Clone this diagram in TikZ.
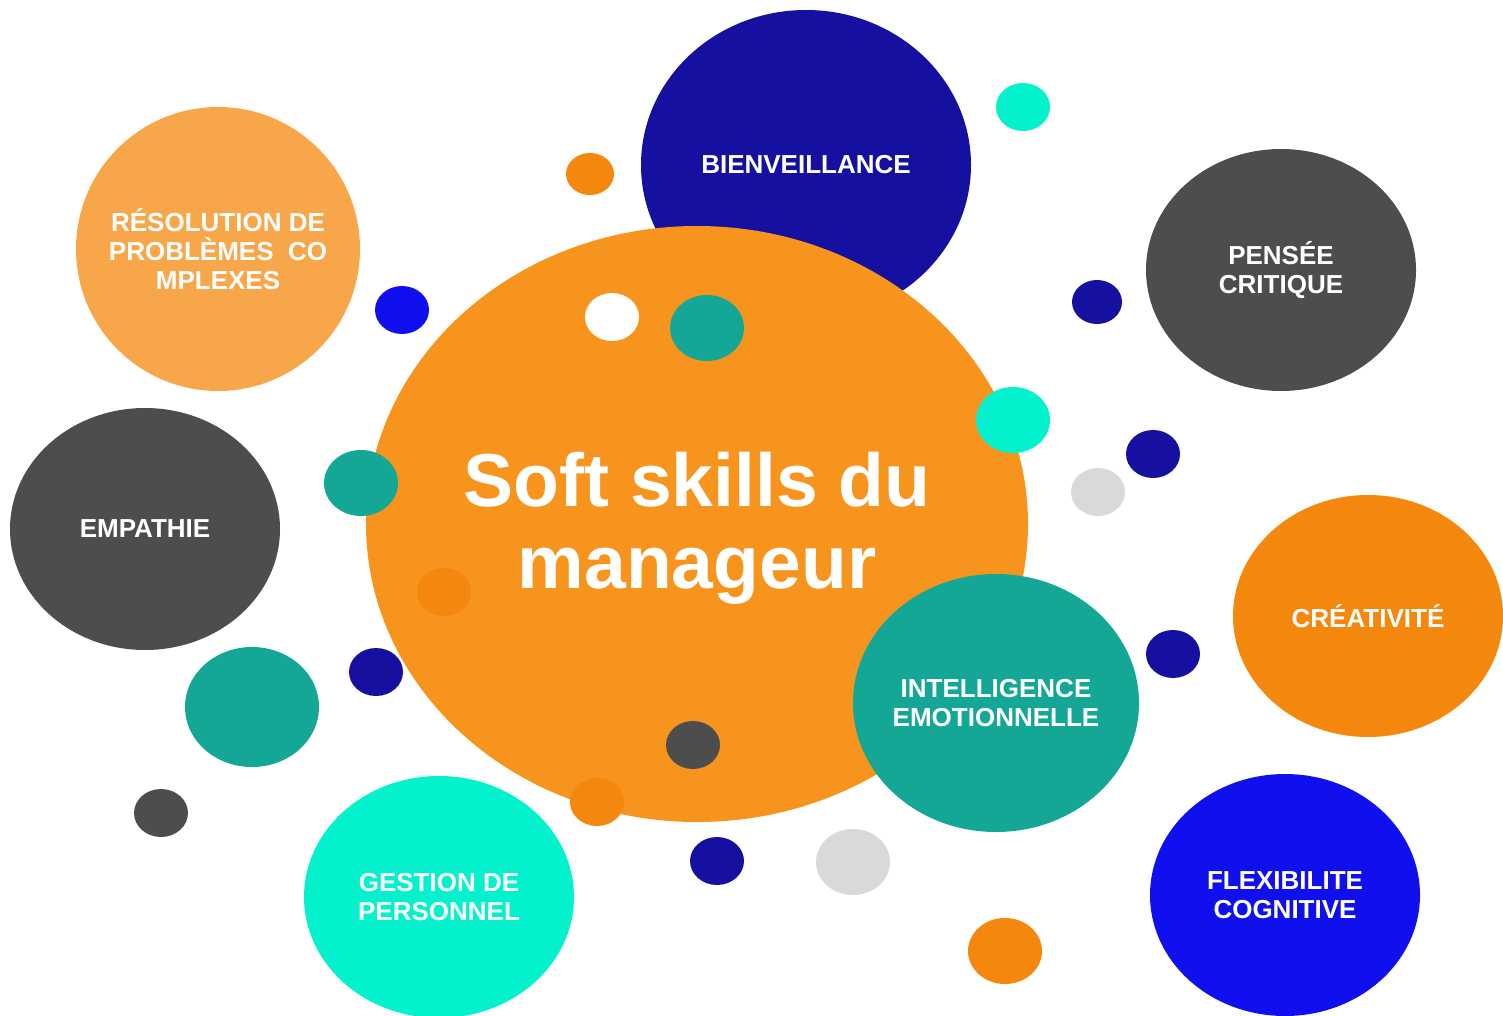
\documentclass[tikz,border=0pt]{standalone}
\usepackage{fontspec}
\setmainfont{Liberation Sans}
\usepackage{tikz}
\usetikzlibrary{shapes.geometric}

\definecolor{mainorange}{HTML}{F7941E}
\definecolor{paleorange}{HTML}{F7A64A}
\definecolor{deeporange}{HTML}{F4870D}
\definecolor{navy}{HTML}{1510A0}
\definecolor{brightblue}{HTML}{1010EE}
\definecolor{darkgray}{HTML}{4D4D4D}
\definecolor{teal}{HTML}{14A795}
\definecolor{aqua}{HTML}{03F2CD}
\definecolor{lightgray}{HTML}{D9D9D9}

\begin{document}
\begin{tikzpicture}[x=1pt,y=-1pt,
	blob/.style={ellipse,inner sep=0pt,outer sep=0pt},
	skill/.style={blob,minimum width=270pt,minimum height=242pt},
	dot/.style={blob,minimum width=54pt,minimum height=48pt},
	bigdot/.style={blob,minimum width=74pt,minimum height=66pt},
	lbl/.style={text=white,align=center,font=\bfseries\fontsize{26}{29}\selectfont}]
		\useasboundingbox (0,0) rectangle (1503,1016);

		% behind the centre
		\node [blob,fill=navy,minimum width=330pt,minimum height=310pt] (bienv) at (806,165) {};
		\node [blob,fill=mainorange,minimum width=662pt,minimum height=596pt] (centre) at (697,524) {};

		% skills
		\node [blob,fill=paleorange,minimum width=284pt,minimum height=284pt] (resol) at (218,249) {};
		\node [skill,fill=darkgray] (pensee) at (1281,270) {};
		\node [skill,fill=darkgray] (empathie) at (145,529) {};
		\node [skill,fill=deeporange] (creat) at (1368,616) {};
		\node [skill,fill=brightblue] (flex) at (1285,895) {};
		\node [skill,fill=aqua] (gestion) at (439,897) {};

		% small bubbles
		\node [dot,fill=deeporange,minimum width=48pt,minimum height=42pt] (d1) at (590,174) {};
		\node [dot,fill=aqua] (d2) at (1023,107) {};
		\node [dot,fill=brightblue] (d3) at (402,310) {};
		\node [dot,fill=navy,minimum width=50pt,minimum height=44pt] (d4) at (1097,302) {};
		\node [dot,fill=white] (d5) at (612,317) {};
		\node [bigdot,fill=teal] (d6) at (707,328) {};
		\node [bigdot,fill=aqua] (d7) at (1013,420) {};
		\node [dot,fill=navy] (d8) at (1153,454) {};
		\node [dot,fill=lightgray] (d9) at (1098,492) {};
		\node [bigdot,fill=teal] (d10) at (361,483) {};
		\node [dot,fill=deeporange] (d11) at (444,592) {};
		\node [dot,fill=navy] (d12) at (1173,654) {};
		\node [dot,fill=navy] (d13) at (376,672) {};
		\node [blob,fill=teal,minimum width=134pt,minimum height=120pt] (d14) at (252,707) {};
		\node [dot,fill=darkgray] (d15) at (693,745) {};
		\node [dot,fill=darkgray] (d16) at (161,813) {};
		\node [dot,fill=deeporange] (d17) at (597,802) {};
		\node [dot,fill=navy] (d18) at (717,861) {};
		\node [bigdot,fill=lightgray] (d19) at (853,862) {};
		\node [bigdot,fill=deeporange] (d20) at (1005,951) {};

		\node [blob,fill=teal,minimum width=286pt,minimum height=258pt] (intel) at (996,703) {};

		% texts
		\node [text=white,align=center,font=\bfseries\fontsize{75}{82}\selectfont] (titre) at (697,528) {Soft skills du\\manageur};
		\node [lbl] at (bienv) {BIENVEILLANCE};
		\node [lbl] at (resol) {RÉSOLUTION DE\\PROBLÈMES\ \ CO\\MPLEXES};
		\node [lbl] at (pensee) {PENSÉE\\CRITIQUE};
		\node [lbl] at (empathie) {EMPATHIE};
		\node [lbl] at (creat) {CRÉATIVITÉ};
		\node [lbl] at (intel) {INTELLIGENCE\\EMOTIONNELLE};
		\node [lbl] at (flex) {FLEXIBILITE\\COGNITIVE};
		\node [lbl] at (gestion) {GESTION DE\\PERSONNEL};
\end{tikzpicture}
\end{document}
